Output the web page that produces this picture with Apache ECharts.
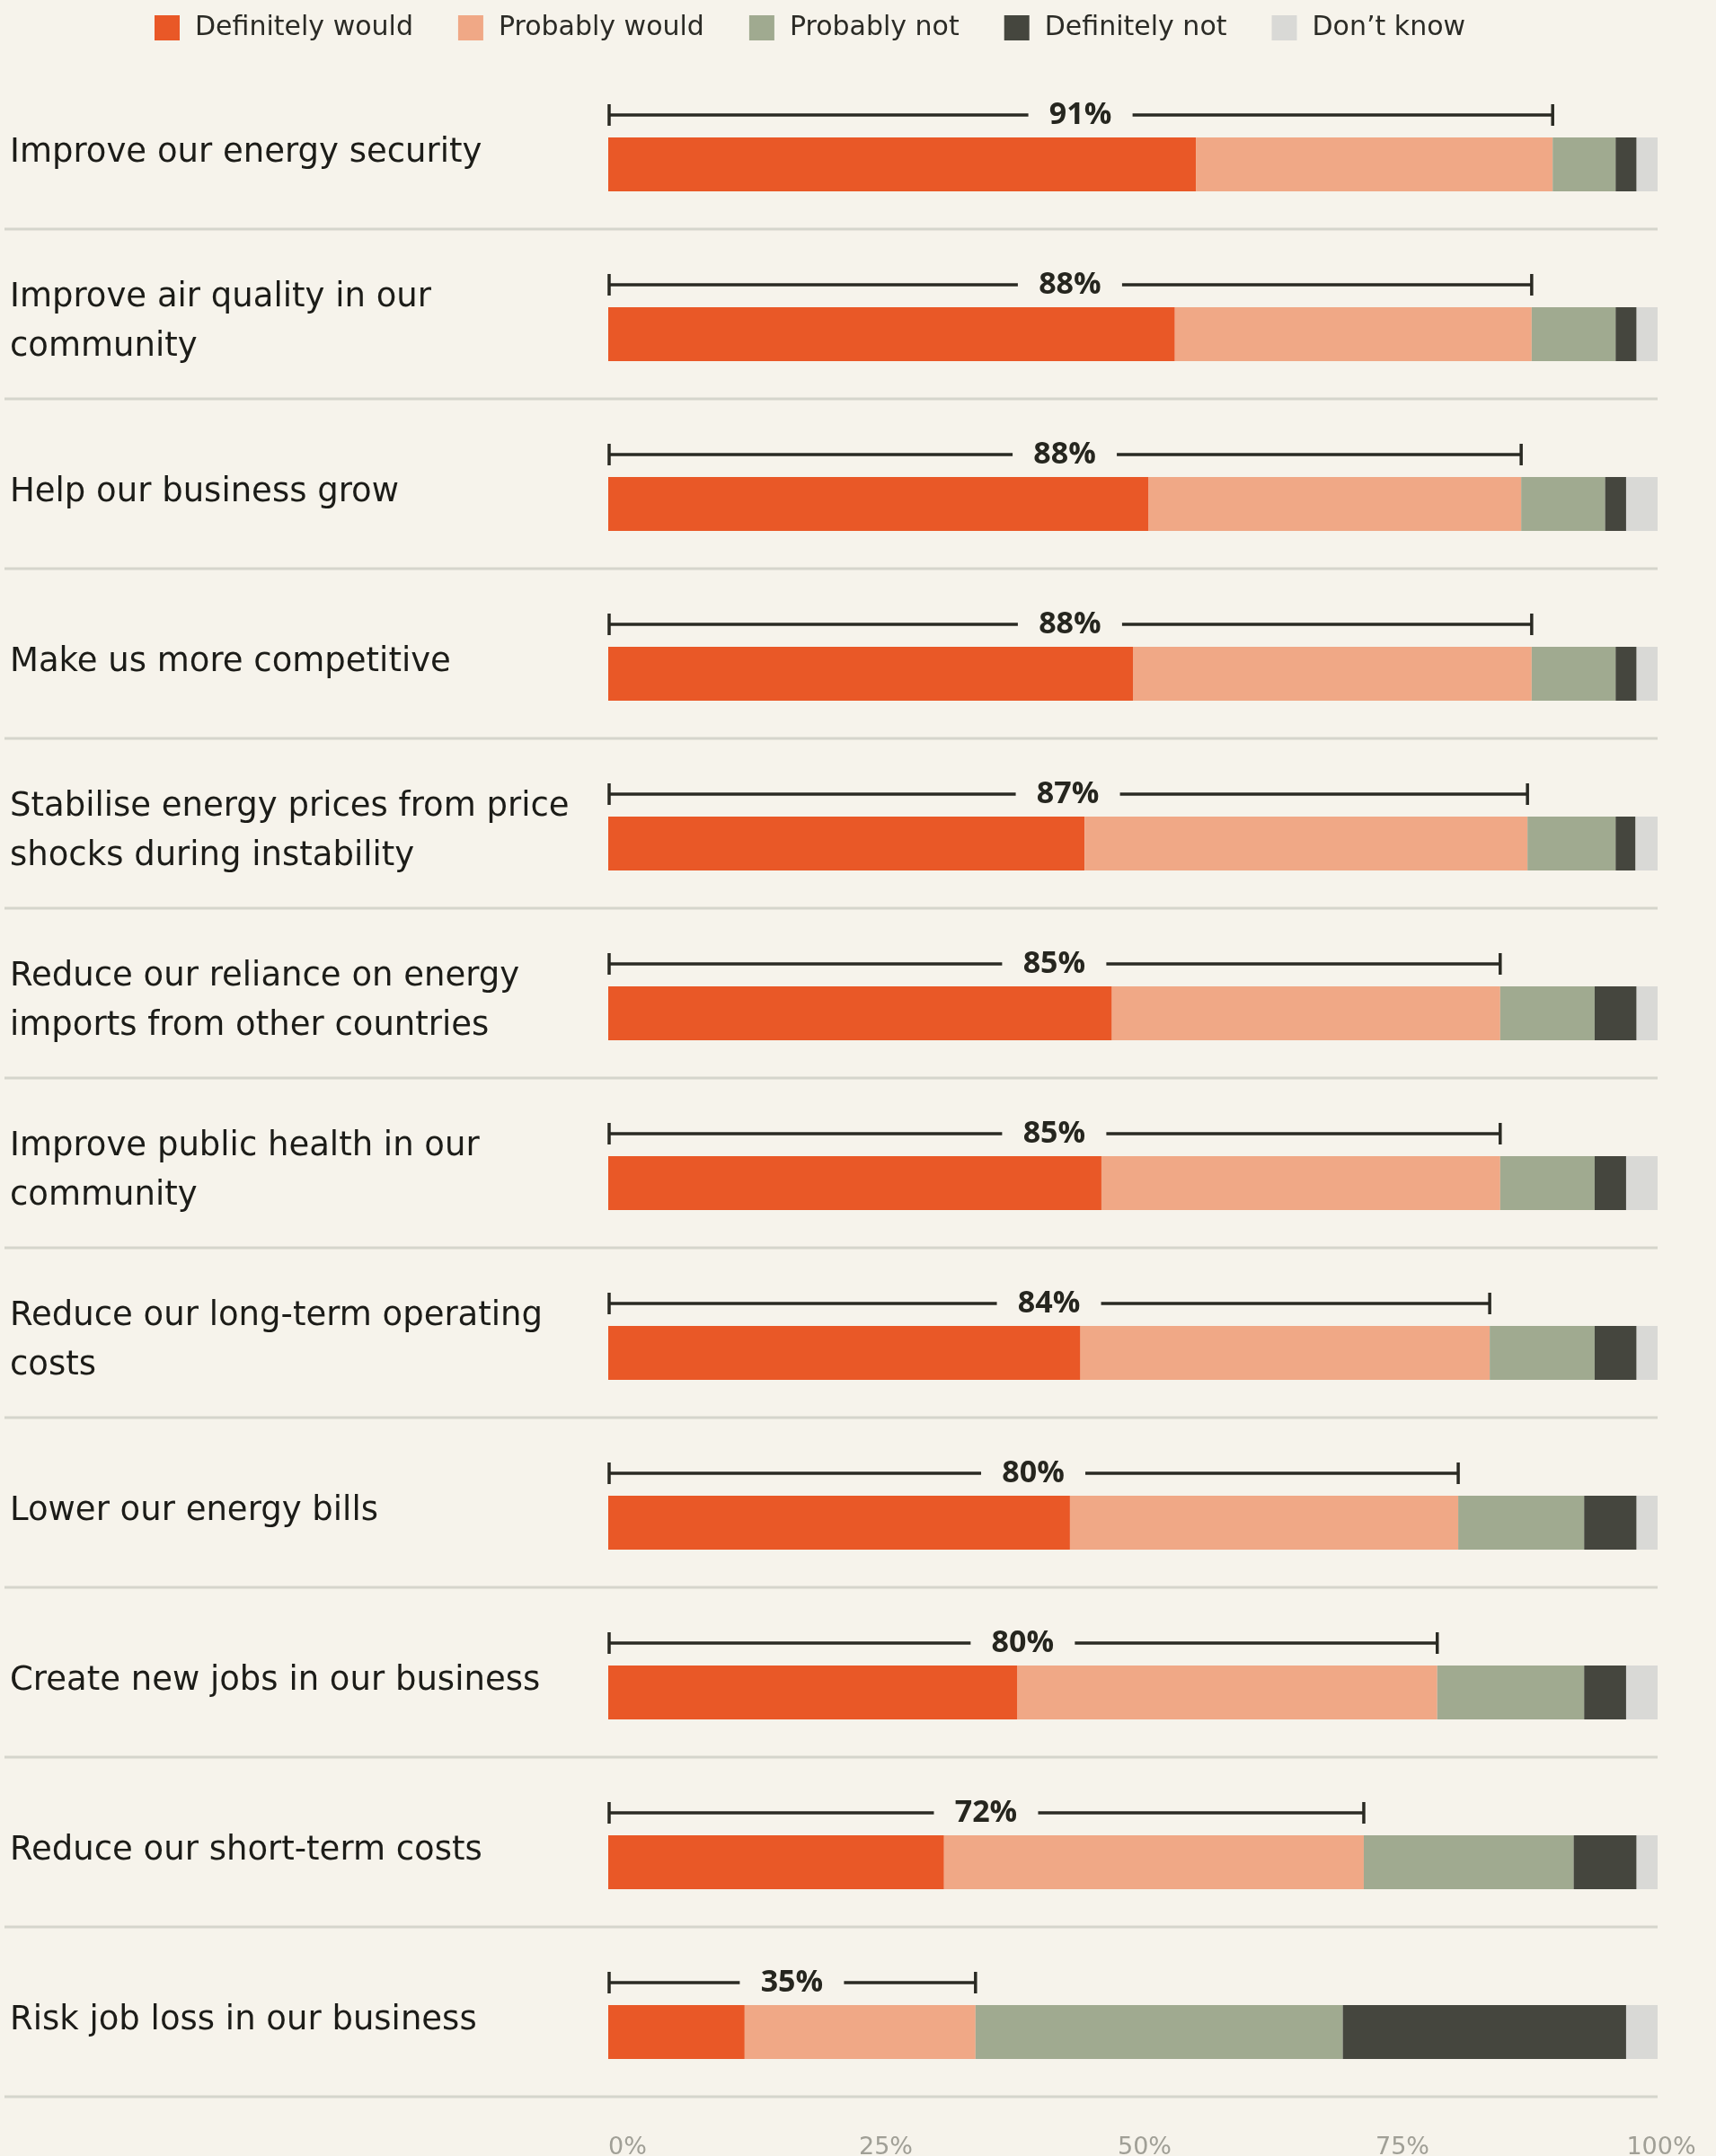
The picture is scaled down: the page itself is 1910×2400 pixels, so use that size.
<!DOCTYPE html>
<html>
<head>
<meta charset="utf-8">
<script src="https://cdn.jsdelivr.net/npm/echarts@6/dist/echarts.min.js"></script>
<style>
    html, body { margin: 0; padding: 0; background: #f6f3eb; }
    #chart { width: 1910px; height: 2400px; }
</style>
</head>
<body>
<div id="chart"></div>
<script>
    // 分类（从上到下）
    const categories = [
        'Improve our energy security',
        'Improve air quality in our community',
        'Help our business grow',
        'Make us more competitive',
        'Stabilise energy prices from price shocks during instability',
        'Reduce our reliance on energy imports from other countries',
        'Improve public health in our community',
        'Reduce our long-term operating costs',
        'Lower our energy bills',
        'Create new jobs in our business',
        'Reduce our short-term costs',
        'Risk job loss in our business'
    ];
    const definitelyWould = [56, 54, 51.5, 50, 45.4, 48, 47, 45, 44, 39, 32, 13];
    const probablyWould   = [34, 34, 35.5, 38, 42.2, 37, 38, 39, 37, 40, 40, 22];
    const probablyNot     = [6, 8, 8, 8, 8.4, 9, 9, 10, 12, 14, 20, 35];
    const definitelyNot   = [2, 2, 2, 2, 1.9, 4, 3, 4, 5, 4, 6, 27];
    const dontKnow        = [2, 2, 3, 2, 2.1, 2, 3, 2, 2, 3, 2, 3];
    // 括号上方的合计标签
    const netWould = [91, 88, 88, 88, 87, 85, 85, 84, 80, 80, 72, 35];
    const xTicks = [0, 25, 50, 75, 100];

    const seriesNames = ['Definitely would', 'Probably would', 'Probably not', 'Definitely not', 'Don\u2019t know'];
    const seriesColors = ['#e95827', '#f0a886', '#a0aa90', '#45463e', '#d9d9d6'];
    const seriesData = [definitelyWould, probablyWould, probablyNot, definitelyNot, dontKnow];

    const textColor = '#1c1c18';
    const labelFont = '"DejaVu Sans", sans-serif';
    const boldFont = '"Open Sans", sans-serif';

    const chart = echarts.init(document.getElementById('chart'));

    const barSeries = seriesNames.map((name, i) => ({
        name: name,
        type: 'bar',
        stack: 'total',
        barWidth: 60,
        itemStyle: { color: seriesColors[i] },
        emphasis: { disabled: true },
        data: seriesData[i]
    }));

    // 左侧文字 + 横向分隔线
    const rowSeries = {
        type: 'custom',
        silent: true,
        clip: false,
        encode: { x: 0, y: 1 },
        data: categories.map((c, i) => [100, i]),
        renderItem(params, api) {
            const idx = api.value(1);
            const end = api.coord([api.value(0), idx]);
            const y = end[1] + 72;
            return {
                type: 'group',
                children: [
                    {
                        type: 'line',
                        shape: { x1: 5, y1: y, x2: end[0], y2: y },
                        style: { stroke: '#d5d5cc', lineWidth: 3 }
                    },
                    {
                        type: 'text',
                        style: {
                            x: 11,
                            y: end[1] - 13,
                            text: categories[idx],
                            width: 640,
                            overflow: 'break',
                            lineHeight: 55,
                            align: 'left',
                            verticalAlign: 'middle',
                            fill: textColor,
                            font: '37px ' + labelFont
                        }
                    }
                ]
            };
        }
    };

    // 合计括号
    const bracketSeries = {
        type: 'custom',
        silent: true,
        clip: false,
        encode: { x: 0, y: 1 },
        data: categories.map((c, i) => [definitelyWould[i] + probablyWould[i], i, netWould[i]]),
        renderItem(params, api) {
            const idx = api.value(1);
            const start = api.coord([0, idx]);
            const end = api.coord([api.value(0), idx]);
            const y = start[1] - 55;
            const mid = (start[0] + end[0]) / 2;
            const gap = 58;
            const lineStyle = { stroke: '#2a2a23', lineWidth: 3.5 };
            return {
                type: 'group',
                children: [
                    { type: 'line', shape: { x1: start[0] + 1, y1: y, x2: mid - gap, y2: y }, style: lineStyle },
                    { type: 'line', shape: { x1: mid + gap, y1: y, x2: end[0], y2: y }, style: lineStyle },
                    { type: 'line', shape: { x1: start[0] + 1, y1: y - 12, x2: start[0] + 1, y2: y + 12 }, style: lineStyle },
                    { type: 'line', shape: { x1: end[0], y1: y - 12, x2: end[0], y2: y + 12 }, style: lineStyle },
                    {
                        type: 'text',
                        style: {
                            x: mid, y: y,
                            text: api.value(2) + '%',
                            align: 'center',
                            verticalAlign: 'middle',
                            fill: '#26261f',
                            font: 'bold 34px ' + boldFont
                        }
                    }
                ]
            };
        }
    };

    // x 轴标签的细微偏移
    const tickRich = {};
    const tickShift = { 0: 0, 25: 34, 50: 26, 75: 16, 100: 8 };
    xTicks.forEach((t) => {
        tickRich['t' + t] = {
            fontSize: 27,
            fontFamily: labelFont,
            color: '#a09f96',
            padding: [0, 0, 0, tickShift[t]]
        };
    });

    chart.setOption({
        backgroundColor: '#f6f3eb',
        animation: false,
        legend: {
            top: 16,
            left: 172,
            padding: 0,
            icon: 'rect',
            itemWidth: 28,
            itemHeight: 28,
            itemGap: 50,
            selectedMode: false,
            data: seriesNames,
            textStyle: {
                fontSize: 30,
                fontFamily: labelFont,
                color: '#2b2b26',
                padding: [0, 0, 0, 12]
            }
        },
        grid: {
            left: 677,
            right: 65,
            top: 88.5,
            bottom: 43.5,
            containLabel: false,
            outerBoundsMode: 'none'
        },
        xAxis: {
            type: 'value',
            min: 0,
            max: 100,
            interval: 25,
            axisLine: { show: false },
            axisTick: { show: false },
            splitLine: { show: false },
            axisLabel: {
                margin: 21,
                fontSize: 27,
                fontFamily: labelFont,
                color: '#a09f96',
                alignMinLabel: 'left',
                formatter: (v) => xTicks.includes(v) ? '{t' + v + '|' + v + '%}' : '',
                rich: tickRich
            }
        },
        yAxis: {
            type: 'category',
            inverse: true,
            data: categories,
            axisLine: { show: false },
            axisTick: { show: false },
            splitLine: { show: false },
            axisLabel: { show: false }
        },
        series: [...barSeries, rowSeries, bracketSeries]
    });
</script>
</body>
</html>
